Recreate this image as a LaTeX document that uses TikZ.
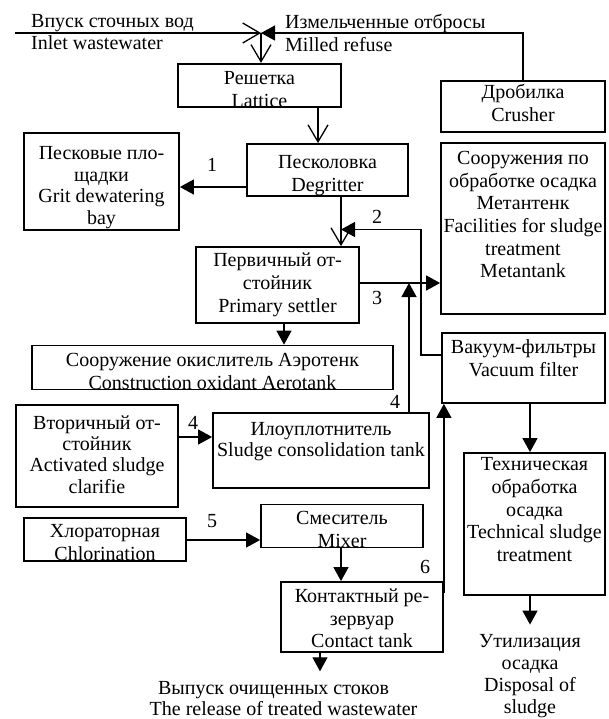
\documentclass[tikz,border=0pt]{standalone}
\usepackage{fontspec}
\setmainfont{Liberation Serif}
\usetikzlibrary{arrows.meta}
\newcommand\xhgt[1]{\rule{0pt}{#1}}
\newcommand\xdep[1]{\rule[-#1]{0pt}{#1}}
\tikzset{
  box/.style={draw, line width=1.8pt, inner sep=0pt, align=center},
  lab/.style={inner sep=0pt},
  plain/.style={inner sep=0pt},
  fa/.style={-{Triangle[length=14pt,width=15pt]}, line width=1.3pt},
  oa/.style={-{Straight Barb[length=17pt,width=20pt]}, line width=1.3pt},
}
\begin{document}
\begin{tikzpicture}[x=1pt,y=-1pt,font=\fontsize{20pt}{22.7pt}\selectfont]
\useasboundingbox (0,0) rectangle (608,719);

% boxes
\node[box, minimum width=163pt, minimum height=43pt] (resh) at (259.5,85.5) {\xhgt{20.5pt}Решетка\\Lattice};
\node[box, minimum width=164pt, minimum height=51pt] (drob) at (523,106.5) {Дробилка\\Crusher\xdep{7pt}};
\node[box, minimum width=161pt, minimum height=44pt] (pesk) at (327.5,170) {\xhgt{25pt}Песколовка\\Degritter};
\node[box, minimum width=155pt, minimum height=97pt, font=\fontsize{20pt}{21.5pt}\selectfont] (pplo) at (101.5,181.5) {\xhgt{25pt}Песковые пло-\\щадки\\Grit dewatering\\bay};
\node[box, minimum width=164pt, minimum height=171pt] (soor) at (523,228.5) {Сооружения по\\обработке осадка\\Метантенк\\Facilities for sludge\\treatment\\Metantank\xdep{28pt}};
\node[box, minimum width=163pt, minimum height=76pt] (perv) at (277.5,285) {Первичный от-\\стойник\\Primary settler};
\node[box, minimum width=361pt, minimum height=41pt] (aero) at (212.5,367.5) {\xhgt{21pt}Сооружение окислитель Аэротенк\\Construction oxidant Aerotank};
\node[box, minimum width=163pt, minimum height=70pt] (vak) at (523.5,368) {Вакуум-фильтры\\Vacuum filter\xdep{20pt}};
\node[box, minimum width=162pt, minimum height=102pt, font=\fontsize{20pt}{21.3pt}\selectfont] (vtor) at (97,456) {Вторичный от-\\стойник\\Activated sludge\\clarifie\xdep{3.5pt}};
\node[box, minimum width=216pt, minimum height=75pt, font=\fontsize{20pt}{21pt}\selectfont] (ilo) at (321,450.5) {Илоуплотнитель\\Sludge consolidation tank\xdep{22pt}};
\node[box, minimum width=141pt, minimum height=142pt] (tech) at (534.5,524) {Техническая\\обработка\\осадка\\Technical sludge\\treatment\xdep{29pt}};
\node[box, minimum width=162pt, minimum height=43pt] (chlor) at (105,539.5) {\xhgt{19.5pt}Хлораторная\\Chlorination};
\node[box, minimum width=162pt, minimum height=42pt] (smes) at (342,526) {\xhgt{20pt}Смеситель\\Mixer};
\node[box, minimum width=162pt, minimum height=70pt] (kont) at (362,617) {\xhgt{16.5pt}Контактный ре-\\зервуар\\Contact tank};

% free texts
\node[plain, anchor=west, align=left] (inl) at (31,32) {Впуск сточных вод\\Inlet wastewater};
\node[plain, anchor=west, align=left] (mil) at (285,33) {Измельченные отбросы\\Milled refuse};
\node[align=center, inner xsep=0pt, inner ysep=10pt, font=\fontsize{20pt}{22pt}\selectfont] (util) at (530,676.5) {Утилизация\\осадка\\Disposal of\\sludge};
\node[align=center, inner xsep=0pt, inner ysep=10pt, font=\fontsize{20pt}{20.5pt}\selectfont] (rel) at (283.5,698.4) {\mbox{Выпуск очищенных стоков\kern20pt}\\The release of treated wastewater};

% labels
\node[lab] (n1) at (212,165) {1};
\node[lab] (n2) at (377,216.5) {2};
\node[lab] (n3) at (377,298) {3};
\node[lab] (n4a) at (395,402) {4};
\node[lab] (n4b) at (193,423) {4};
\node[lab] (n5) at (212,521) {5};
\node[lab] (n6) at (425,567) {6};

% helper coordinates
\coordinate (J) at (261,33);
\coordinate (inS) at (15,33);
\coordinate (x318) at (318,0);
\coordinate (x341) at (341,0);
\coordinate (x409) at (409,0);
\coordinate (x284) at (284,0);
\coordinate (x530) at (530,0);
\coordinate (x320) at (320,0);
\coordinate (y187) at (0,187);
\coordinate (y355) at (0,355);
\coordinate (y283) at (0,283);
\coordinate (y437) at (0,437);
\coordinate (y540) at (0,540);
\coordinate (y593) at (0,593);
\coordinate (c2) at (421,229.5);

% connectors
\draw[oa] (inS) -- (J);
\draw[fa] (drob.north) |- (J);
\draw[oa] (J) -- (J |- resh.north);
\draw[oa] (resh.south -| x318) -- (pesk.north -| x318);
\draw[fa] (pesk.west |- y187) -- (pplo.east |- y187);
\draw[oa] (pesk.south -| x341) -- (perv.north -| x341);
\draw[fa] (vak.west |- y355) -| (c2) -- (c2 -| x341);
\draw[fa] (perv.east |- y283) -- (soor.west |- y283);
\draw[fa] (ilo.north -| x409) -- (x409 |- y283);
\draw[fa] (perv.south -| x284) -- (aero.north -| x284);
\draw[fa] (vtor.east |- y437) -- (ilo.west |- y437);
\draw[fa] (vak.south -| x530) -- (tech.north -| x530);
\draw[fa] (tech.south -| x530) -- (util.north -| x530);
\draw[fa] (chlor.east |- y540) -- (smes.west |- y540);
\draw[fa] (smes.south -| x341) -- (kont.north -| x341);
\draw[fa] (kont.east |- y593) -- (vak.south -| kont.east);
\draw[fa] (kont.south -| x320) -- (rel.north -| x320);
\end{tikzpicture}
\end{document}
